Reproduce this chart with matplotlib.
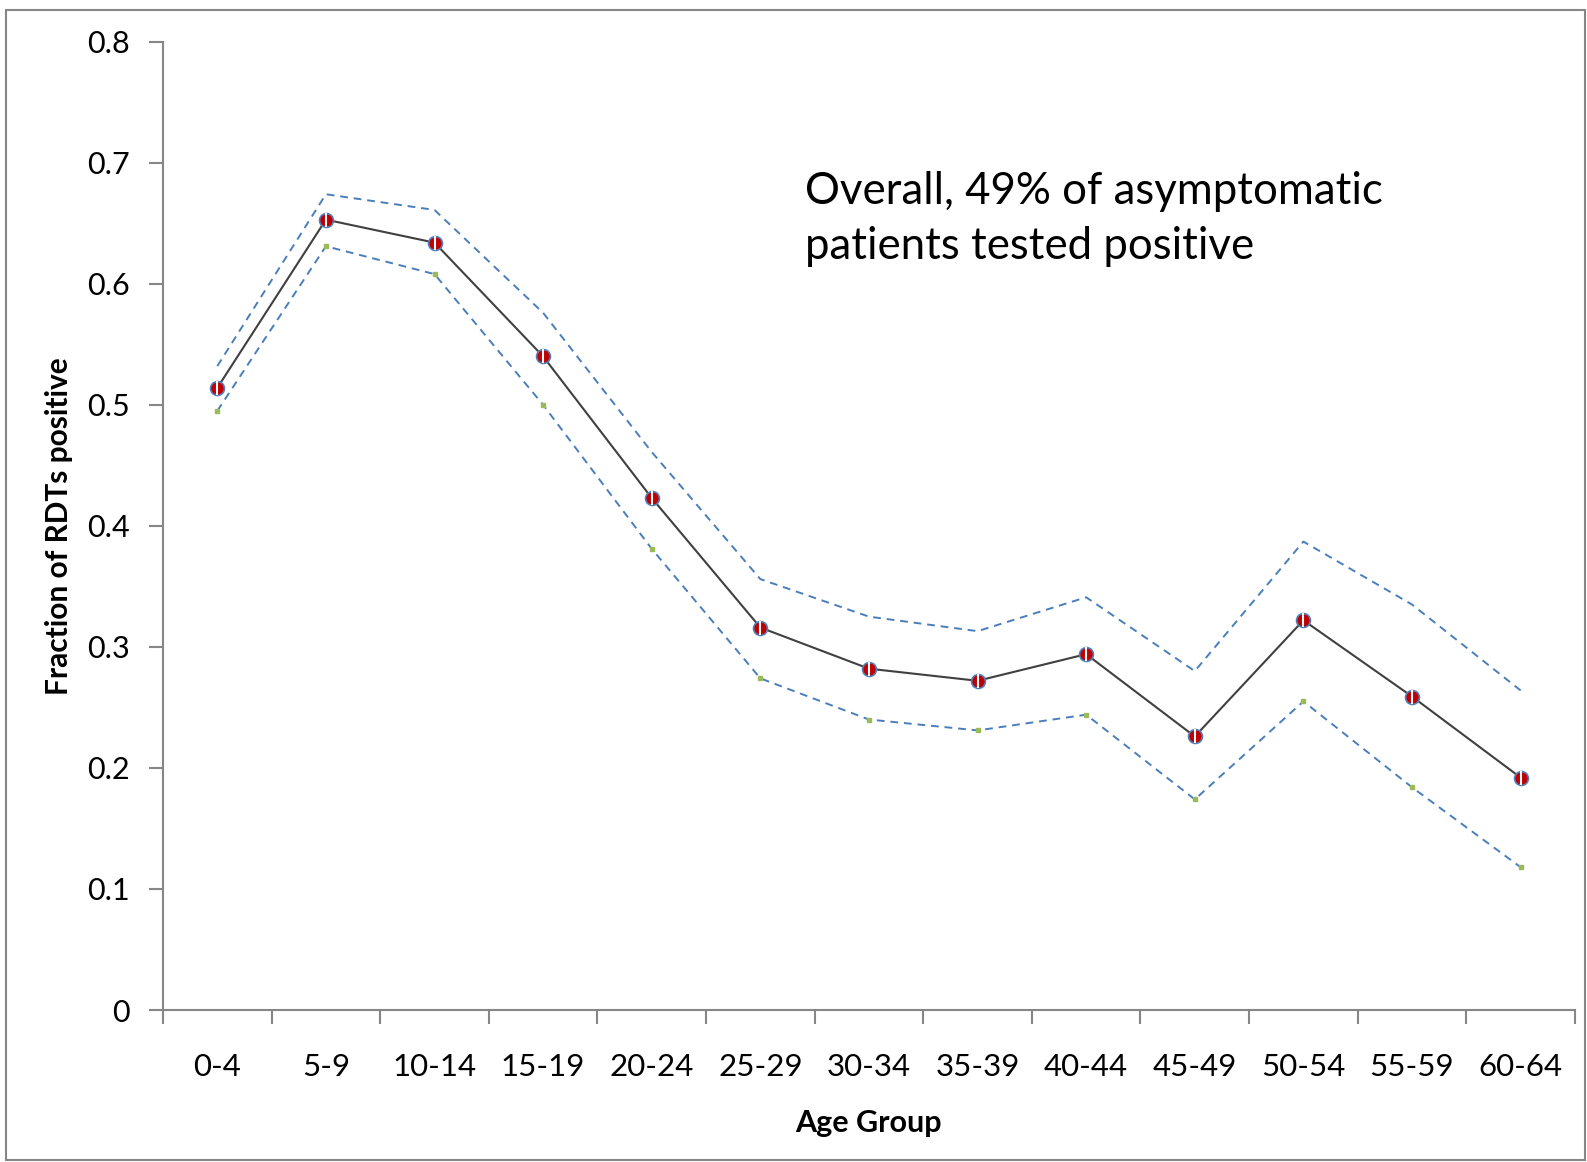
import numpy as np
import matplotlib.pyplot as plt
from matplotlib.patches import Rectangle

plt.rcParams['font.family'] = ['Lato', 'DejaVu Sans']

age_groups = ['0-4', '5-9', '10-14', '15-19', '20-24', '25-29', '30-34',
              '35-39', '40-44', '45-49', '50-54', '55-59', '60-64']
frac_pos = [0.514, 0.653, 0.634, 0.540, 0.423, 0.316, 0.282,
            0.272, 0.294, 0.226, 0.322, 0.259, 0.192]
upper_ci = [0.532, 0.674, 0.661, 0.576, 0.461, 0.356, 0.325,
            0.313, 0.341, 0.280, 0.387, 0.335, 0.264]
lower_ci = [0.495, 0.631, 0.608, 0.500, 0.381, 0.274, 0.240,
            0.231, 0.244, 0.174, 0.255, 0.184, 0.118]

fig = plt.figure(figsize=(15.87, 11.62), dpi=100)
ax = fig.add_axes([0.1027, 0.1308, 0.8897, 0.8333])

x = np.arange(len(age_groups))
ax.plot(x, upper_ci, ls=(0, (4, 3)), color='#4a7ebb', lw=1.4)
ax.plot(x, lower_ci, ls=(0, (4, 3)), color='#4a7ebb', lw=1.4,
        marker='s', ms=3, mfc='#9bbb59', mec='#9bbb59')
ax.plot(x, frac_pos, color='#404040', lw=1.5, marker='o', ms=10,
        mfc='#c00000', mec='#4f81bd', mew=1.2)
ax.plot(x, frac_pos, ls='none', marker='|', ms=9.5, mec='white', mew=1.5)

ax.set_xlim(-0.5, len(age_groups) - 0.5)
ax.set_ylim(0, 0.8)
ax.set_yticks(np.arange(0, 0.81, 0.1))
ax.set_yticklabels(['0', '0.1', '0.2', '0.3', '0.4', '0.5', '0.6', '0.7', '0.8'])
ax.set_xticks(x)
ax.set_xticklabels(age_groups)
ax.set_xticks(np.arange(-0.5, len(age_groups), 1), minor=True)
ax.tick_params(axis='x', which='major', length=0, pad=31, labelsize=22.5)
ax.tick_params(axis='x', which='minor', length=10, width=1.5, color='#868686', direction='out')
ax.tick_params(axis='y', length=10, width=1.5, color='#868686', labelsize=22, pad=14,
               direction='out')
for s in ['top', 'right']:
    ax.spines[s].set_visible(False)
for s in ['left', 'bottom']:
    ax.spines[s].set_color('#868686')
    ax.spines[s].set_linewidth(1.5)

ax.set_xlabel('Age Group', fontsize=22, fontweight='bold', labelpad=20)
ax.set_ylabel('Fraction of RDTs positive', fontsize=21.5, fontweight='bold', labelpad=10)

ax.text(0.455, 0.866, 'Overall, 49% of asymptomatic\npatients tested positive',
        transform=ax.transAxes, fontsize=31.5, va='top', ha='left', linespacing=1.4)

fig.add_artist(Rectangle((0.004, 0.002), 0.995, 0.989, transform=fig.transFigure,
                         fill=False, ec='#868686', lw=1.5))

plt.savefig('out.png', dpi=100)
